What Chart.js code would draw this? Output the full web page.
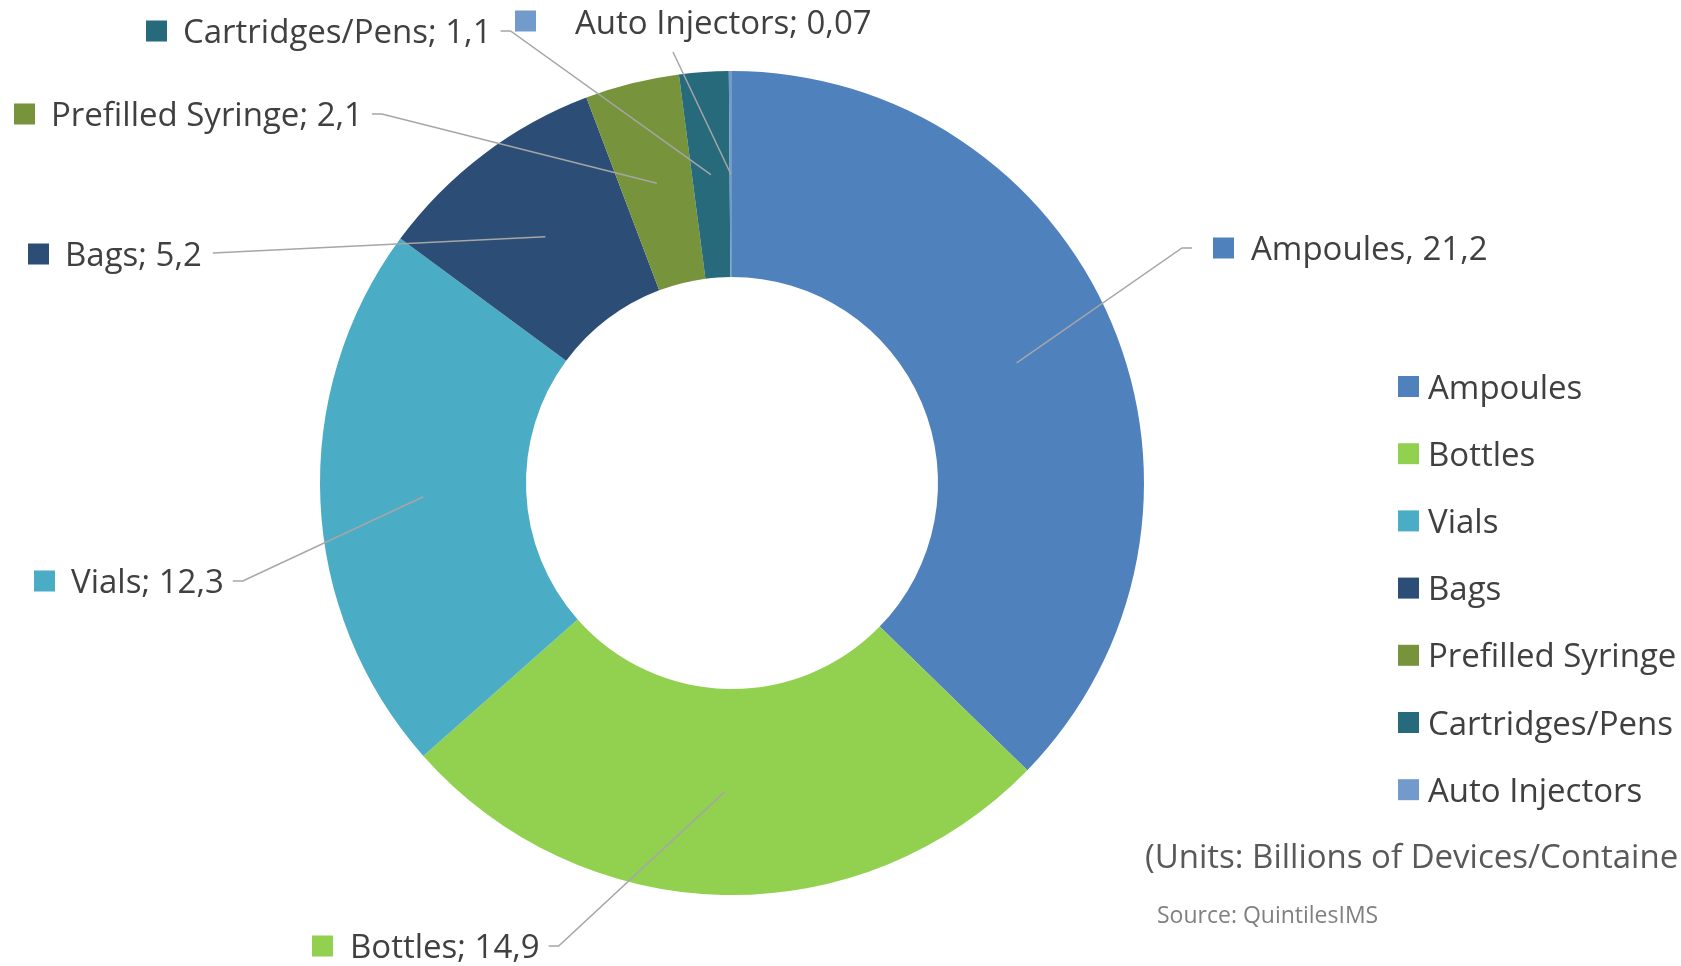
<!DOCTYPE html>
<html>
<head>
<meta charset="utf-8">
<title>Devices / Containers</title>
<script src="https://cdn.jsdelivr.net/npm/chart.js@4.4.1/dist/chart.umd.min.js"></script>
<style>
  html, body { margin: 0; padding: 0; background: #ffffff; }
  #wrap { width: 1681px; height: 966px; position: relative; }
</style>
</head>
<body>
<div id="wrap"><canvas id="myChart" width="1681" height="966"></canvas></div>
<script>
const categories = ["Ampoules", "Bottles", "Vials", "Bags", "Prefilled Syringe", "Cartridges/Pens", "Auto Injectors"];
const values = [21.2, 14.9, 12.3, 5.2, 2.1, 1.1, 0.07];
const valueTexts = ["21,2", "14,9", "12,3", "5,2", "2,1", "1,1", "0,07"];
const separators = [", ", "; ", "; ", "; ", "; ", "; ", "; "];
const colors = ["#4F81BD", "#92D050", "#4BACC6", "#2C4D75", "#77933C", "#276A7C", "#729ACA"];
const unitsText = "(Units: Billions of Devices/Containers)";
const sourceText = "Source: QuintilesIMS";

// where each data label sits (square left edge, vertical centre) and how its leader leaves it
const labelLayout = [
  { x: 1213, y: 248, gap: 17, lead: "left" },
  { x: 312, y: 946, gap: 17, lead: "right" },
  { x: 34, y: 581, gap: 16, lead: "right" },
  { x: 28, y: 254, gap: 16, lead: "straight" },
  { x: 14, y: 114, gap: 16, lead: "right" },
  { x: 146, y: 31, gap: 16, lead: "right" },
  { x: 515, y: 21, gap: 39, lead: "below", from: [673, 52] },
];

const FONT = "'Open Sans', 'Liberation Sans', sans-serif";
const TEXT = "#404040";
const LINE = "#A6A6A6";
const SQ = 21;

const labelsPlugin = {
  id: "excelLabels",
  afterDraw: (chart) => {
    const ctx = chart.ctx;
    const arcs = chart.getDatasetMeta(0).data;
    ctx.save();

    // data labels + leader lines
    ctx.font = "33px " + FONT;
    ctx.textBaseline = "alphabetic";
    arcs.forEach((arc, i) => {
      const lay = labelLayout[i];
      const txt = categories[i] + separators[i] + valueTexts[i];
      const tx = lay.x + SQ + lay.gap;
      const tw = ctx.measureText(txt).width;
      const p = arc.tooltipPosition();

      ctx.strokeStyle = LINE;
      ctx.lineWidth = 1.5;
      ctx.beginPath();
      if (lay.lead === "left") {
        ctx.moveTo(lay.x - 21, lay.y);
        ctx.lineTo(lay.x - 31, lay.y);
      } else if (lay.lead === "right") {
        ctx.moveTo(tx + tw + 9, lay.y);
        ctx.lineTo(tx + tw + 19, lay.y);
      } else if (lay.lead === "straight") {
        ctx.moveTo(tx + tw + 11, lay.y - 1);
      } else {
        ctx.moveTo(lay.from[0], lay.from[1]);
      }
      ctx.lineTo(p.x, p.y);
      ctx.stroke();

      ctx.fillStyle = colors[i];
      ctx.fillRect(lay.x, lay.y - SQ / 2, SQ, SQ);
      ctx.fillStyle = TEXT;
      ctx.fillText(txt, tx, lay.y + (i === 6 ? 13 : 12));
    });

    // legend
    categories.forEach((name, i) => {
      const cy = 386.5 + i * 67.2;
      ctx.fillStyle = colors[i];
      ctx.fillRect(1398, cy - SQ / 2, SQ, SQ);
      ctx.fillStyle = TEXT;
      ctx.fillText(name, 1428, cy + 12);
    });

    ctx.fillStyle = "#595959";
    ctx.fillText(unitsText, 1145, 868);

    ctx.font = "23px " + FONT;
    ctx.fillStyle = "#808080";
    ctx.fillText(sourceText, 1157, 923);
    ctx.restore();
  },
};

const ctx = document.getElementById("myChart").getContext("2d");
const chart = new Chart(ctx, {
  type: "doughnut",
  data: {
    labels: categories,
    datasets: [
      {
        data: values,
        backgroundColor: colors,
        borderWidth: 0,
      },
    ],
  },
  options: {
    responsive: false,
    animation: false,
    cutout: "50%",
    layout: {
      padding: { left: 320, right: 537, top: 71, bottom: 71 },
    },
    plugins: {
      legend: { display: false },
      tooltip: { enabled: false },
    },
  },
  plugins: [labelsPlugin],
});
</script>
</body>
</html>
